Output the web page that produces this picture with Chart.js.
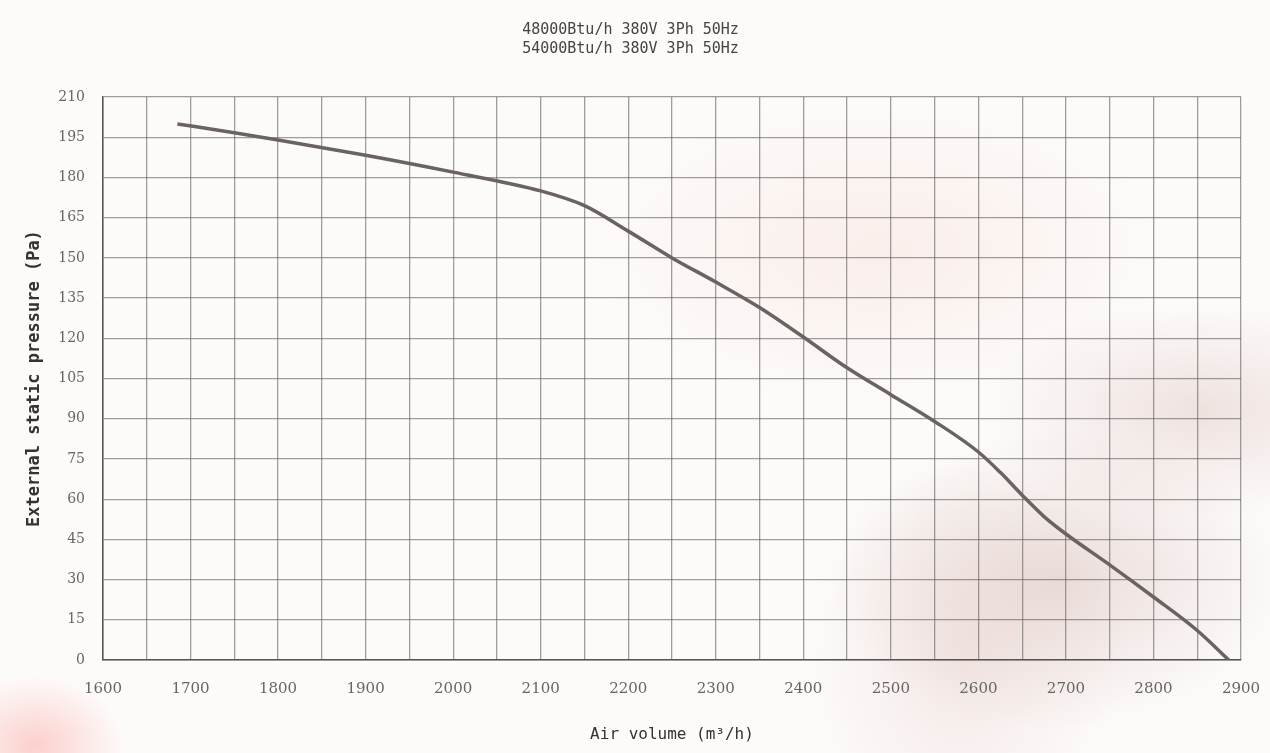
<!DOCTYPE html>
<html>
<head>
<meta charset="utf-8">
<script src="https://cdn.jsdelivr.net/npm/chart.js@4/dist/chart.umd.min.js"></script>
<style>
html,body{margin:0;padding:0;}
body{width:1270px;height:753px;overflow:hidden;
  background:
    radial-gradient(ellipse 230px 150px at 1060px 580px, rgba(215,190,185,0.5), rgba(255,255,255,0) 100%),
    radial-gradient(ellipse 220px 110px at 1200px 410px, rgba(220,195,190,0.45), rgba(255,255,255,0) 100%),
    radial-gradient(ellipse 300px 160px at 880px 250px, rgba(245,222,215,0.45), rgba(255,255,255,0) 100%),
    radial-gradient(ellipse 160px 200px at 960px 660px, rgba(230,205,200,0.4), rgba(255,255,255,0) 100%),
    radial-gradient(ellipse 90px 70px at 35px 745px, rgba(250,185,180,0.65), rgba(255,255,255,0) 100%),
    #fdfbfa;}
#wrap{position:absolute;left:0;top:0;width:1270px;height:753px;}
</style>
</head>
<body>
<div id="wrap"><canvas id="fanChart"></canvas></div>
<script>
// DATA
const titleLines=['48000Btu/h 380V 3Ph 50Hz','54000Btu/h 380V 3Ph 50Hz'];
const airVolume=[1685,1750,1800,1900,2000,2100,2150,2200,2250,2300,2350,2400,2450,2500,2550,2600,2625,2650,2675,2700,2750,2800,2850,2886];
const pressure=[200,196.7,194,188.3,182,175,169.5,160,150,141,131.5,120.5,109,99,89,77.6,70,61.5,53.5,47,35.5,23.5,11,0];
const xMin=1600,xMax=2900,xStep=50,xLabelStep=100;
const yMin=0,yMax=210,yStep=15;

const points=airVolume.map((x,i)=>({x,y:pressure[i]}));

// CHART
const ctx=document.getElementById('fanChart').getContext('2d');
new Chart(ctx,{
  type:'line',
  data:{datasets:[{data:points,borderColor:'#6b6262',borderWidth:3.5,pointRadius:0,cubicInterpolationMode:'monotone',fill:false}]},
  options:{
    responsive:true,maintainAspectRatio:false,animation:false,
    layout:{padding:{left:20,right:29,top:0,bottom:5}},
    plugins:{
      legend:{display:false},tooltip:{enabled:false},
      title:{display:true,text:titleLines,color:'#444',
        font:{family:'"DejaVu Sans Mono", monospace',size:15,weight:'normal',lineHeight:1.27},padding:{top:21,bottom:38}}
    },
    scales:{
      x:{type:'linear',min:xMin,max:xMax,
        afterFit:s=>{s.height=88;s.paddingLeft=0;s.paddingRight=0},
        border:{color:'#555',width:1.5},
        grid:{color:'rgba(95,95,95,0.6)',lineWidth:1.3,drawTicks:false},
        ticks:{stepSize:xStep,autoSkip:false,maxRotation:0,padding:20,color:'#666',
          font:{family:'"DejaVu Serif", serif',size:15},
          callback:v=>v%xLabelStep===0?String(v):''},
        title:{display:true,text:'Air volume (m³/h)',color:'#333',
          font:{family:'"DejaVu Sans Mono", monospace',size:16},padding:{top:14}}
      },
      y:{min:yMin,max:yMax,
        afterFit:s=>{s.width=83},
        border:{color:'#555',width:1.5},
        grid:{color:'rgba(95,95,95,0.6)',lineWidth:1.3,drawTicks:false},
        ticks:{stepSize:yStep,padding:18,color:'#666',
          font:{family:'"DejaVu Serif", serif',size:14}},
        title:{display:true,text:'External static pressure (Pa)',color:'#333',
          font:{family:'"DejaVu Sans Mono", monospace',size:17,weight:'bold'},padding:{bottom:4}}
      }
    }
  }
});
</script>
</body>
</html>
